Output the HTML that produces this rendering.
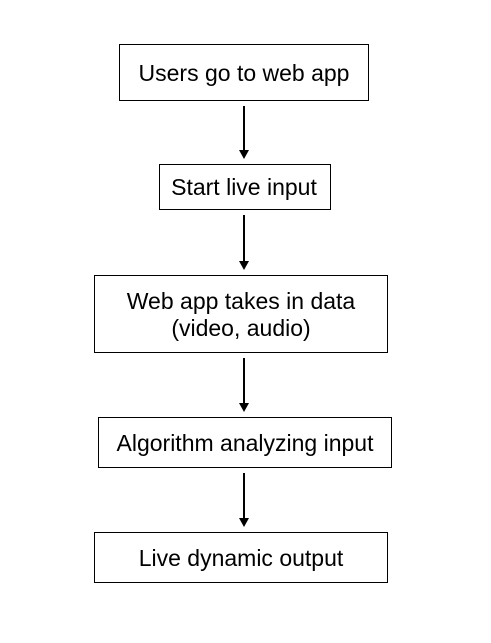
<!DOCTYPE html>
<html><head><style>
body{margin:0;background:#fff;}
svg{display:block}
text{font-family:"Liberation Sans",Arial,sans-serif;font-size:23px;fill:#000;text-anchor:middle}
</style></head><body>
<svg width="491" height="643" viewBox="0 0 491 643">
<g fill="none" stroke="#000" stroke-width="1">
<rect x="119.5" y="44.5" width="249" height="56"/>
<rect x="159.5" y="164.5" width="171" height="45"/>
<rect x="94.5" y="275.5" width="293" height="77"/>
<rect x="98.5" y="417.5" width="293" height="50"/>
<rect x="94.5" y="532.5" width="293" height="50"/>
</g>
<g stroke="#000" stroke-width="2">
<line x1="244" y1="106" x2="244" y2="152"/>
<line x1="244" y1="215" x2="244" y2="262"/>
<line x1="244" y1="358" x2="244" y2="404"/>
<line x1="244" y1="473" x2="244" y2="519"/>
</g>
<g fill="#000">
<polygon points="239,150 249,150 244,159"/>
<polygon points="239,261 249,261 244,270"/>
<polygon points="239,403 249,403 244,412"/>
<polygon points="239,518 249,518 244,527"/>
</g>
<text x="244" y="81">Users go to web app</text>
<text x="244" y="195">Start live input</text>
<text x="241" y="309">Web app takes in data</text>
<text x="241" y="336">(video, audio)</text>
<text x="245" y="451">Algorithm analyzing input</text>
<text x="241" y="566">Live dynamic output</text>
</svg>
</body></html>
